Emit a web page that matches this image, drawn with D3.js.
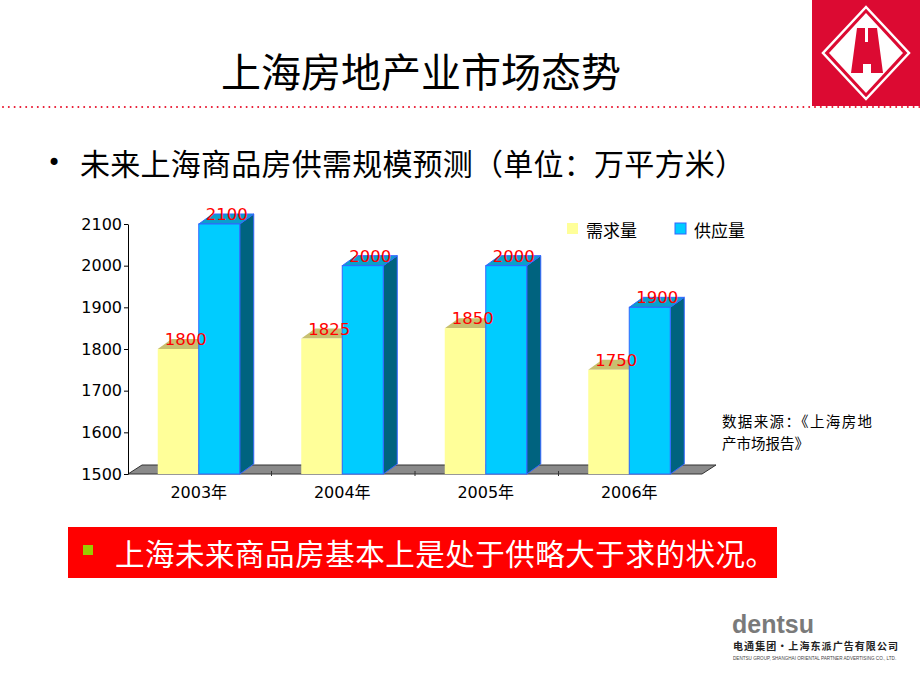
<!DOCTYPE html>
<html>
<head>
  <meta charset="utf-8">
  <title>上海房地产业市场态势</title>
  <style>
    body { margin: 0; background: #fff; }
    svg { display: block; }
    .cjk { font-family: "Noto Sans CJK SC", sans-serif; }
    .num { font-family: "DejaVu Sans", sans-serif; font-size: 16.5px; }
    .axis path, .axis line { stroke: #000; }
    .axis text { font-family: "DejaVu Sans", sans-serif; font-size: 16px; fill: #000; }
  </style>
</head>
<body>
  <svg id="slide"></svg>

  <script src="https://d3js.org/d3.v7.min.js"></script>
  <script>
    // data
    const years = ["2003年", "2004年", "2005年", "2006年"];
    const demand = [1800, 1825, 1850, 1750];
    const supply = [2100, 2000, 2000, 1900];
    const yTicks = [1500, 1600, 1700, 1800, 1900, 2000, 2100];
    const seriesNames = ["需求量", "供应量"];

    const width = 920, height = 690;
    const svg = d3.select("#slide").attr("width", width).attr("height", height);

    // header: logo block + dotted rule
    svg.append("rect").attr("x", 812).attr("y", 0).attr("width", 108).attr("height", 106)
      .attr("fill", "#dc0a32");
    const cx = 866, cy = 53;
    const diamond = (w, h) => `M${cx},${cy - h}L${cx + w},${cy}L${cx},${cy + h}L${cx - w},${cy}Z`;
    svg.append("path").attr("d", diamond(43, 46)).attr("fill", "none").attr("stroke", "#fff").attr("stroke-width", 2.5);
    svg.append("path").attr("d", diamond(37, 40)).attr("fill", "#fff");
    svg.append("path")
      .attr("d", `M857,28L877,28L883,73L871,73L871,64L863,64L863,73L851,73Z`)
      .attr("fill", "#dc0a32");
    svg.append("rect").attr("x", 865).attr("y", 28).attr("width", 3).attr("height", 14).attr("fill", "#fff");

    svg.append("g").selectAll("circle")
      .data(d3.range(3, width, 5.8))
      .enter().append("circle")
      .attr("cx", d => d).attr("cy", 107).attr("r", 1)
      .attr("fill", "#e8102a");

    svg.append("text").attr("class", "cjk")
      .attr("x", 421).attr("y", 70)
      .attr("text-anchor", "middle").attr("dominant-baseline", "central")
      .style("font-size", "40px").text("上海房地产业市场态势");

    svg.append("text").attr("x", 47).attr("y", 163)
      .attr("dominant-baseline", "central")
      .style("font-family", "DejaVu Sans").style("font-size", "24px").text("•");
    svg.append("text").attr("class", "cjk")
      .attr("x", 80).attr("y", 162).attr("dominant-baseline", "central")
      .attr("textLength", 665).attr("lengthAdjust", "spacing")
      .style("font-size", "30px").text("未来上海商品房供需规模预测（单位：万平方米）");

    // chart
    const x0 = 128, x1 = 702, yBase = 474, yTop = 224;
    const depthX = 14, depthY = -10;
    const x = d3.scaleBand().domain(years).range([x0, x1]);
    const barW = 41;
    const xs = d3.scaleBand().domain(seriesNames).range([0, barW * 2]);
    const y = d3.scaleLinear().domain([1500, 2100]).range([yBase, yTop]);
    const groupX = d => x(d) + (x.bandwidth() - barW * 2) / 2 - 1;

    // floor
    svg.append("path")
      .attr("d", `M${x0},${yBase}L${x1},${yBase}L${x1 + depthX},${yBase + depthY + 1}L${x0 + depthX},${yBase + depthY + 1}Z`)
      .attr("fill", "#8a8a8a").attr("stroke", "#333").attr("stroke-width", 1);

    svg.append("g").selectAll("line")
      .data(years.slice(1))
      .enter().append("line")
      .attr("x1", d => x(d)).attr("x2", d => x(d))
      .attr("y1", yBase - 3).attr("y2", yBase + 2)
      .attr("stroke", "#333");

    const yAxis = d3.axisLeft(y).tickValues(yTicks).tickFormat(d3.format("d"))
      .tickSize(4).tickSizeOuter(0).tickPadding(2);
    svg.append("g").attr("class", "axis")
      .attr("transform", `translate(${x0},0)`)
      .call(yAxis);

    const series = [
      { name: seriesNames[0], values: demand, front: "#ffff99", top: "#c8c070", side: "#999960", stroke: "none" },
      { name: seriesNames[1], values: supply, front: "#00ccff", top: "#0aa0cc", side: "#00637f", stroke: "#3366ff" }
    ];

    series.forEach(s => {
      const g = svg.append("g");
      const bars = g.selectAll("g")
        .data(years.map((yr, i) => ({ yr, v: s.values[i] })))
        .enter().append("g");
      const bx = d => groupX(d.yr) + xs(s.name);

      bars.append("path")
        .attr("d", d => {
          const l = bx(d) + barW, t = y(d.v);
          return `M${l},${yBase}L${l + depthX},${yBase + depthY}L${l + depthX},${t + depthY}L${l},${t}Z`;
        })
        .attr("fill", s.side).attr("stroke", s.stroke).attr("stroke-width", 1);
      bars.append("path")
        .attr("d", d => {
          const l = bx(d), t = y(d.v);
          return `M${l},${t}L${l + barW},${t}L${l + barW + depthX},${t + depthY}L${l + depthX},${t + depthY}Z`;
        })
        .attr("fill", s.top).attr("stroke", s.stroke).attr("stroke-width", 1);
      bars.append("rect")
        .attr("x", bx).attr("y", d => y(d.v))
        .attr("width", barW).attr("height", d => yBase - y(d.v))
        .attr("fill", s.front).attr("stroke", s.stroke).attr("stroke-width", 1);
    });

    // value labels on top
    series.forEach(s => {
      svg.append("g").selectAll("text")
        .data(years.map((yr, i) => ({ yr, v: s.values[i] })))
        .enter().append("text")
        .attr("class", "num")
        .attr("x", d => groupX(d.yr) + xs(s.name) + 7)
        .attr("y", d => y(d.v) - 4)
        .attr("fill", "#ff0000")
        .text(d => d.v);
    });

    // x labels
    svg.append("g").selectAll("text")
      .data(years)
      .enter().append("text")
      .attr("x", d => groupX(d) + barW)
      .attr("y", 498)
      .attr("text-anchor", "middle")
      .style("font-family", "DejaVu Sans, 'Noto Sans CJK SC'")
      .style("font-size", "16px")
      .text(d => d);

    // legend
    const legend = svg.append("g").selectAll("g")
      .data(series)
      .enter().append("g")
      .attr("transform", (d, i) => `translate(${567 + i * 108},223)`);
    legend.append("rect").attr("width", 11).attr("height", 11)
      .attr("fill", d => d.front).attr("stroke", d => d.stroke);
    legend.append("text").attr("class", "cjk")
      .attr("x", 19).attr("y", 6).attr("dominant-baseline", "central")
      .style("font-size", "17px").text(d => d.name);

    // source note
    const note = ["数据来源：《上海房地", "产市场报告》"];
    svg.append("g").selectAll("text")
      .data(note)
      .enter().append("text").attr("class", "cjk")
      .attr("x", 722).attr("y", (d, i) => 420 + i * 22)
      .attr("dominant-baseline", "central")
      .attr("textLength", (d, i) => i === 0 ? 150 : null)
      .attr("lengthAdjust", "spacing")
      .style("font-size", "14.5px").text(d => d);

    // conclusion banner
    svg.append("rect").attr("x", 68).attr("y", 527).attr("width", 709).attr("height", 51).attr("fill", "#ff0000");
    svg.append("rect").attr("x", 83).attr("y", 545).attr("width", 10).attr("height", 10).attr("fill", "#99cc00");
    svg.append("text").attr("class", "cjk")
      .attr("x", 115).attr("y", 552).attr("dominant-baseline", "central")
      .attr("textLength", 660).attr("lengthAdjust", "spacing")
      .attr("fill", "#fff").style("font-size", "29.5px")
      .text("上海未来商品房基本上是处于供略大于求的状况。");

    // footer logo
    svg.append("text").attr("x", 732).attr("y", 633)
      .style("font-family", "'Liberation Sans', Arial").style("font-weight", "bold")
      .style("font-size", "25px").attr("fill", "#7a7a7a").text("dentsu");
    svg.append("text").attr("class", "cjk").attr("x", 733).attr("y", 650)
      .style("font-size", "10px").style("font-weight", "bold").attr("fill", "#222")
      .attr("textLength", 165).attr("lengthAdjust", "spacing")
      .text("电通集团・上海东派广告有限公司");
    svg.append("text").attr("x", 733).attr("y", 660)
      .style("font-family", "'Liberation Sans', Arial").style("font-size", "4.6px").attr("fill", "#444")
      .text("DENTSU GROUP, SHANGHAI ORIENTAL PARTNER ADVERTISING CO., LTD.");
  </script>
</body>
</html>
